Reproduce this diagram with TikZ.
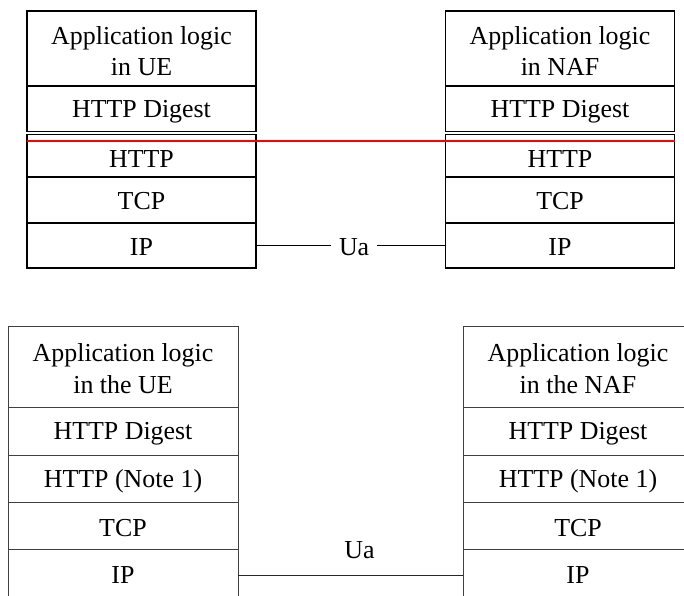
\documentclass[tikz,border=0pt]{standalone}
\usepackage{fontspec}
\setmainfont{Liberation Serif}
\begin{document}
\begin{tikzpicture}[x=1bp, y=-1bp,
  txt/.style={font=\fontsize{26}{31.5}\selectfont, align=center, inner sep=0pt},
  layer/.style={draw, line width=1.2bp, minimum width=229bp, inner sep=0pt},
  layerb/.style={draw=black!75, line width=0.9bp, minimum width=230bp, inner sep=0pt},
  link/.style={line width=1.2bp},
  linkb/.style={draw=black!85, line width=1bp}]
\useasboundingbox (0,0) rectangle (684,596);
\clip (0,0) rectangle (684,596);

% ---- upper pair of protocol stacks ----
\foreach \side/\cx in {UE/141.5, NAF/560}{
  \node[layer, minimum height=75bp] (app\side) at (\cx,48.5) {};
  \node[layer, minimum height=45.5bp] (dig\side) at (\cx,108.75) {};
  \node[layer, minimum height=42.5bp] (http\side) at (\cx,155.75) {};
  \node[layer, minimum height=46bp] (tcp\side) at (\cx,200) {};
  \node[layer, minimum height=45bp] (ip\side) at (\cx,245.5) {};
  \node[txt] (app\side-t) at ([yshift=-2.5bp]app\side.center) {Application logic\\in \side};
  \node[txt] (dig\side-t) at ([yshift=-3bp]dig\side.center) {HTTP Digest};
  \node[txt] (http\side-t) at ([yshift=-3bp]http\side.center) {HTTP};
  \node[txt] (tcp\side-t) at ([yshift=-1.5bp]tcp\side.center) {TCP};
  \node[txt] (ip\side-t) at ([yshift=-2bp]ip\side.center) {IP};
}
\draw[link] (ipUE.east) -- node[pos=0.518, txt, fill=white, inner xsep=8bp, yshift=-2bp] (uaTop) {Ua} (ipNAF.west);

% red boundary across both stacks
\coordinate (redL) at (27,141);
\coordinate (redR) at (675,141);
\draw[red, line width=1.5bp] (redL) -- (redR);

% ---- lower pair of protocol stacks ----
\foreach \side/\cx in {UE/123, NAF/578}{
  \node[layerb, minimum height=81bp] (bapp\side) at (\cx,366.5) {};
  \node[layerb, minimum height=48bp] (bdig\side) at (\cx,431) {};
  \node[layerb, minimum height=47bp] (bhttp\side) at (\cx,478.5) {};
  \node[layerb, minimum height=47bp] (btcp\side) at (\cx,525.5) {};
  \node[layerb, minimum height=52bp] (bip\side) at (\cx,575) {};
  \node[txt] (bapp\side-t) at ([yshift=-2bp]bapp\side.center) {Application logic\\in the \side};
  \node[txt] (bdig\side-t) at ([yshift=-3bp]bdig\side.center) {HTTP Digest};
  \node[txt] (bhttp\side-t) at ([yshift=-2.5bp]bhttp\side.center) {HTTP (Note 1)};
  \node[txt] (btcp\side-t) at ([yshift=-2.5bp]btcp\side.center) {TCP};
  \node[txt] (bip\side-t) at (bip\side.center) {IP};
}
\draw[linkb] (bipUE.east) -- node[pos=0.54, txt, yshift=25bp] (uaBot) {Ua} (bipNAF.west);
\end{tikzpicture}
\end{document}
